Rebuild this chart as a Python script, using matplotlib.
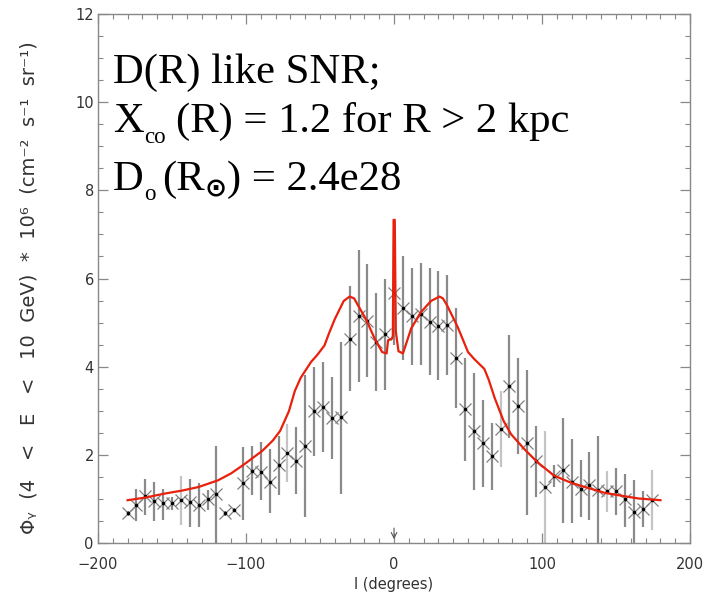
import matplotlib
matplotlib.use("Agg")
import matplotlib.pyplot as plt

# galactic longitude of the data bins (degrees)
lon = [-180, -174, -168, -162, -156, -150, -144, -138, -132, -126,
       -120, -114, -108, -102, -96, -90, -84, -78, -72, -66,
       -60, -54, -48, -42, -36, -30, -24, -18, -12, -6,
       0, 6, 12, 18, 24, 30, 36, 42, 48, 54,
       60, 66, 72, 78, 84, 90, 96, 102, 108, 114,
       120, 126, 132, 138, 144, 150, 156, 162, 168, 174]

# measured flux
flux = [0.67, 0.86, 1.06, 0.96, 0.90, 0.90, 0.97, 0.93, 0.86, 0.99,
        1.10, 0.67, 0.75, 1.35, 1.63, 1.61, 1.38, 1.78, 2.03, 1.87,
        2.20, 2.99, 3.08, 2.84, 2.85, 4.63, 5.16, 5.04, 4.56, 4.75,
        5.68, 5.34, 5.16, 5.19, 5.02, 4.93, 4.95, 4.20, 3.03, 2.54,
        2.26, 1.98, 2.58, 3.55, 3.10, 2.26, 1.85, 1.27, 1.53, 1.66,
        1.38, 1.23, 1.31, 1.20, 1.17, 1.17, 0.99, 0.71, 0.78, 0.97]

# error bar ends
flux_lo = [0.62, 0.49, 0.64, 0.49, 0.52, 0.75, 0.41, 0.37, 0.37, 0.75,
           0.00, 0.62, 0.70, 0.52, 1.08, 0.97, 0.67, 1.08, 1.38, 1.12,
           0.60, 1.98, 2.06, 1.91, 1.12, 3.44, 3.66, 3.77, 3.44, 3.48,
           4.50, 4.15, 4.04, 4.04, 3.81, 3.70, 3.81, 3.06, 1.87, 1.20,
           1.27, 1.21, 1.72, 2.39, 2.02, 0.64, 1.05, 0.00, 1.27, 0.45,
           0.45, 0.60, 0.52, 0.00, 0.71, 0.64, 0.37, 0.00, 0.37, 0.30]
flux_hi = [0.72, 1.23, 1.46, 1.38, 1.23, 1.05, 1.53, 1.46, 1.36, 1.20,
           2.20, 0.72, 0.80, 2.17, 2.20, 2.28, 2.13, 2.43, 2.69, 2.62,
           3.81, 4.00, 4.11, 3.77, 4.56, 5.83, 6.65, 6.32, 5.68, 5.98,
           6.82, 6.50, 6.24, 6.35, 6.24, 6.17, 6.09, 5.34, 4.19, 3.85,
           3.25, 2.73, 3.44, 4.71, 4.20, 3.92, 2.65, 2.54, 1.76, 2.84,
           2.35, 1.88, 2.06, 2.43, 1.64, 1.70, 1.57, 1.42, 1.17, 1.66]
# bins drawn with a lighter error bar
light = [-144, -72, 72, 102, 144, 174]

# model curve (red)
model_l = [-180, -168, -155, -143, -132, -119, -110, -101, -89, -82,
           -77, -71, -67, -63, -56, -52, -47, -44, -40, -34,
           -30, -27, -25, -19, -13, -8, -5, -4, -1.5, -0.8,
           -0.3, 0.5, 1.2, 2, 3, 6, 8, 11.5, 18, 25,
           30.7, 33, 36, 43, 50, 54, 57, 61, 64, 68,
           74, 79, 88, 97, 108, 120, 131, 142, 154, 165, 180]
model_v = [0.97, 1.03, 1.12, 1.19, 1.27, 1.42, 1.58, 1.79, 2.09, 2.32,
           2.54, 2.99, 3.45, 3.75, 4.11, 4.26, 4.48, 4.75, 5.08, 5.49,
           5.59, 5.55, 5.43, 5.08, 4.63, 4.33, 4.30, 4.60, 4.63, 4.70,
           7.33, 7.33, 4.80, 4.60, 4.35, 4.30, 4.50, 4.86, 5.23, 5.49,
           5.59, 5.55, 5.38, 4.90, 4.33, 4.18, 4.08, 3.95, 3.70, 3.29,
           2.77, 2.47, 2.13, 1.83, 1.53, 1.36, 1.25, 1.14, 1.07, 1.01, 0.97]

W, H = 704, 597
fig = plt.figure(figsize=(W / 100, H / 100), dpi=100)
ax = fig.add_axes([0.1392, 0.0905, 0.841, 0.886])

# error bars
bar_colors = ['#c4c4c4' if l in light else '#8a8a8a' for l in lon]
ax.vlines(lon, flux_lo, flux_hi, colors=bar_colors, linewidth=1.6, zorder=1)

# data points
ax.plot(lon, flux, linestyle='none', marker='x', markersize=8.5,
        markeredgewidth=0.9, color='#808080', zorder=3)
ax.plot(lon, flux, linestyle='none', marker='o', markersize=1.6,
        color='black', zorder=4)

# model
ax.plot(model_l, model_v, color='#e8200c', linewidth=1.6, zorder=5)

# little arrow at l = 0
ax.annotate('', xy=(0, 0.02), xytext=(0, 0.4),
            arrowprops=dict(arrowstyle='->', color='#555555', lw=0.8))

ax.set_xlim(-200, 200)
ax.set_ylim(0, 12)
ax.set_xticks([-200, -100, 0, 100, 200])
ax.set_xticklabels(['\u2212200', '\u2212100', '0', '100', '200'])
ax.set_yticks([0, 2, 4, 6, 8, 10, 12])
ax.set_xticks(range(-200, 201, 10), minor=True)
ax.set_yticks([i * 0.5 for i in range(25)], minor=True)
ax.tick_params(which='both', direction='in', top=True, right=True,
               color='#888888', labelsize=10.5, labelcolor='#333333')
ax.tick_params(which='major', length=7, width=0.9)
ax.tick_params(axis='x', which='major', pad=10)
ax.tick_params(axis='y', which='major', pad=3)
ax.tick_params(which='minor', length=3.5, width=0.8)
for s in ax.spines.values():
    s.set_color('#888888')
    s.set_linewidth(1.0)

ax.set_xlabel('l (degrees)', fontsize=10.5, color='#333333', labelpad=4)
ax.set_ylabel('\u03a6\u1d67  (4   <   E   <   10  GeV)  *  10\u2076  (cm\u207b\u00b2  s\u207b\u00b9  sr\u207b\u00b9)',
              fontsize=14, color='#333333')
ax.yaxis.set_label_coords(-0.101, 0.482)

# annotation text, written piece by piece so the subscripts sit low and small
renderer = fig.canvas.get_renderer()


def write_line(x_px, base_px, pieces):
    # pieces: (text, fontsize, drop in px, gap before in px, family, weight)
    for txt, size, drop, gap, fam, wt in pieces:
        x_px += gap
        t = fig.text(x_px / W, 1 - (base_px + drop) / H, txt, fontsize=size,
                     family=fam, weight=wt, va='baseline')
        x_px = t.get_window_extent(renderer).x1


serif = 'Liberation Serif'
big = 30.7
sub = 16.5
write_line(113, 82.7, [('D(R) like SNR;', big, 0, 0, serif, 'normal')])
write_line(113, 131.7, [('X', big, 0, 0, serif, 'normal'),
                        ('co', sub, 11, 0, serif, 'normal'),
                        ('(R) = 1.2 for R > 2 kpc', big, 0, 11, serif, 'normal')])
write_line(113, 190, [('D', big, 0, 0, serif, 'normal'),
                      ('o', sub, 10, 0, serif, 'normal'),
                      ('(R', big, 0, 7, serif, 'normal'),
                      ('\u2299', 19, 6, 0, 'DejaVu Sans', 'bold'),
                      (') = 2.4e28', big, 0, 0, serif, 'normal')])

fig.savefig('out.png', dpi=100)
